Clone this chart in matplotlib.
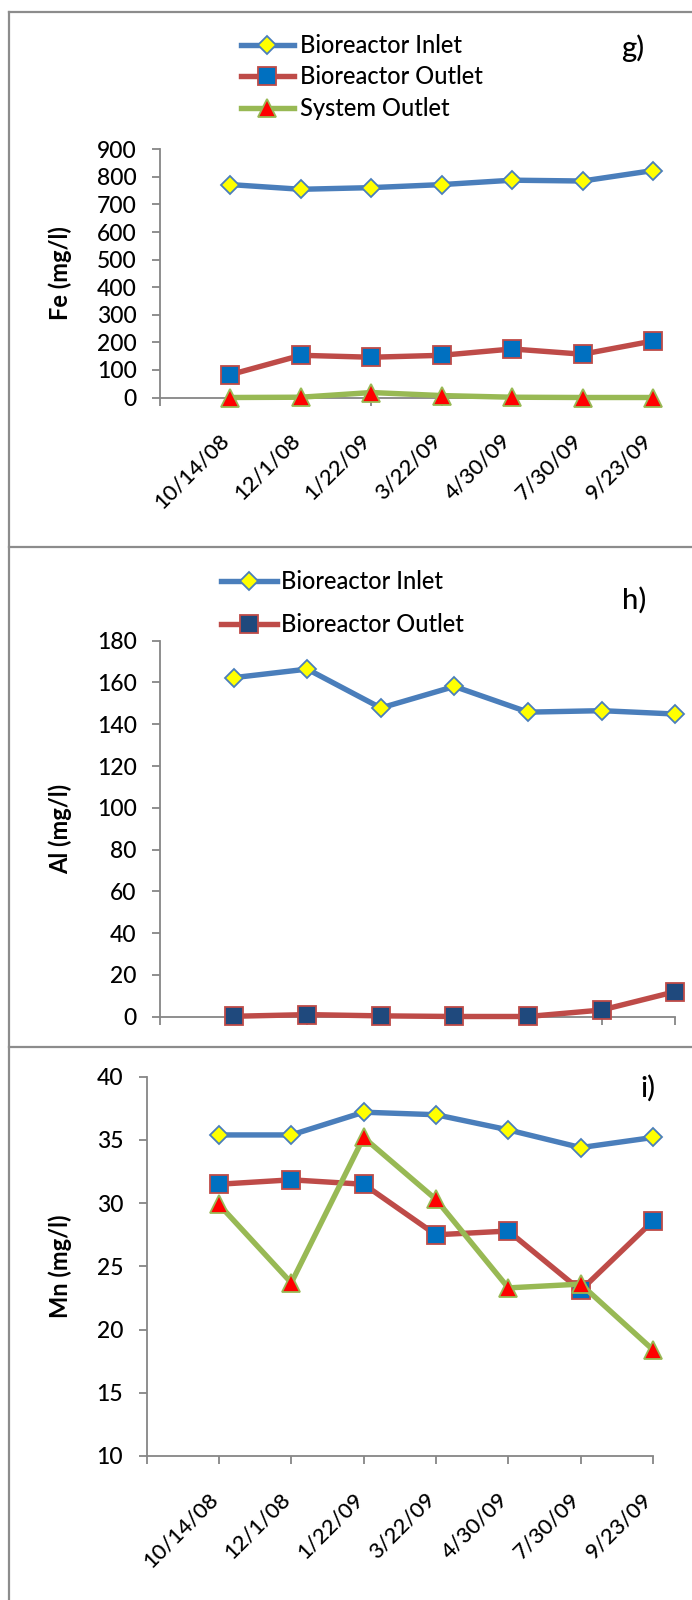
import matplotlib
matplotlib.use("Agg")
import matplotlib.pyplot as plt
from matplotlib.lines import Line2D

plt.rcParams['font.family'] = ['Lato', 'DejaVu Sans']
plt.rcParams['font.weight'] = 500

# ---------------- data ----------------
dates = ['10/14/08', '12/1/08', '1/22/09', '3/22/09', '4/30/09', '7/30/09', '9/23/09']

fe_inlet = [772, 755, 761, 772, 788, 785, 823]
fe_bio_outlet = [83, 153, 146, 153, 176, 157, 205]
fe_sys_outlet = [0, 1, 18, 7, 1, 0, 0]

al_inlet = [162.3, 166.4, 147.8, 158.1, 145.8, 146.5, 144.9]
al_bio_outlet = [0.2, 1.0, 0.4, 0.1, 0.1, 3.2, 12.0]

mn_inlet = [35.4, 35.4, 37.2, 37.0, 35.8, 34.4, 35.2]
mn_bio_outlet = [31.5, 31.85, 31.5, 27.5, 27.8, 23.1, 28.6]
mn_sys_outlet = [29.9, 23.7, 35.2, 30.3, 23.3, 23.6, 18.4]

series_names = ['Bioreactor Inlet', 'Bioreactor Outlet', 'System Outlet']
fe_ticks = list(range(0, 901, 100))
al_ticks = list(range(0, 181, 20))
mn_ticks = list(range(10, 41, 5))

# ---------------- style ----------------
W, H = 692, 1600
BLUE = '#4A7EBB'
RED = '#BE4B48'
GREEN = '#98B954'
AXC = '#868686'
LW = 3.9
MEW = 1.3

fig = plt.figure(figsize=(W / 100, H / 100), dpi=100)


def rect(l, r, t, b):
    return [l / W, 1 - b / H, (r - l) / W, (b - t) / H]


def style_axes(ax, yticks, ylim, ylabel, show_xlabels=True):
    xs = list(range(len(dates) + 1))
    ax.set_xlim(0, len(dates))
    ax.set_ylim(*ylim)
    for s in ['top', 'right']:
        ax.spines[s].set_visible(False)
    for s in ['left', 'bottom']:
        ax.spines[s].set_color(AXC)
        ax.spines[s].set_linewidth(1.3)
    ax.set_yticks(yticks)
    ax.tick_params(axis='y', direction='out', length=5.8, width=1.3, color=AXC,
                   labelsize=16.5, pad=11.0, labelcolor='black')
    if show_xlabels:
        ax.set_xticks(xs, [''] + dates, rotation=45, ha='right', va='baseline',
                      rotation_mode='anchor')
    else:
        ax.set_xticks(xs, [''] * len(xs))
    ax.tick_params(axis='x', direction='out', length=5.8, width=1.3, color=AXC,
                   labelsize=15.8, pad=26.0, labelcolor='black')
    ax.set_ylabel(ylabel, fontsize=17, fontweight='bold', va='center')
    left = ax.get_position().x0 * W
    width = ax.get_position().width * W
    ax.yaxis.set_label_coords((60 - left) / width, 0.5)


def plot_series(ax, y, kind, sq_face='#0070C0'):
    x = list(range(1, len(y) + 1))
    if kind == 0:
        return ax.plot(x, y, color=BLUE, lw=LW, marker='D', ms=9.4, mfc='#FFFF00',
                       mec=BLUE, mew=MEW, clip_on=False, zorder=3)[0]
    if kind == 1:
        return ax.plot(x, y, color=RED, lw=LW, marker='s', ms=12.8, mfc=sq_face,
                       mec=RED, mew=MEW, clip_on=False, zorder=3)[0]
    return ax.plot(x, y, color=GREEN, lw=LW, marker='^', ms=12.8, mfc='#FF0000',
                   mec=GREEN, mew=MEW, clip_on=False, zorder=3)[0]


# ---------------- panel g) Fe ----------------
ax1 = fig.add_axes(rect(160, 653, 149.3, 397.5))
style_axes(ax1, fe_ticks, (0, 900), 'Fe (mg/l)')
h1 = [plot_series(ax1, fe_inlet, 0), plot_series(ax1, fe_bio_outlet, 1),
      plot_series(ax1, fe_sys_outlet, 2)]
ax1.legend(h1, series_names, loc='center left', bbox_to_anchor=(240.5 / W, 1 - 77 / H),
           bbox_transform=fig.transFigure, frameon=False, fontsize=17, borderpad=0,
           borderaxespad=0, handlelength=2.25, handletextpad=0.25, labelspacing=0.36,
           numpoints=1)
fig.text(633 / W, 1 - 48 / H, 'g)', fontsize=21, ha='center', va='center')

# ---------------- panel h) Al ----------------
ax2 = fig.add_axes(rect(160, 675.3, 640.7, 1016.7))
style_axes(ax2, al_ticks, (0, 180), 'Al (mg/l)', show_xlabels=False)
h2 = [plot_series(ax2, al_inlet, 0), plot_series(ax2, al_bio_outlet, 1, sq_face='#1F497D')]
ax2.legend(h2, series_names[:2], loc='center left', bbox_to_anchor=(220.6 / W, 1 - 603 / H),
           bbox_transform=fig.transFigure, frameon=False, fontsize=17, borderpad=0,
           borderaxespad=0, handlelength=2.4, handletextpad=0.16, labelspacing=0.85,
           numpoints=1)
fig.text(634 / W, 1 - 600 / H, 'h)', fontsize=21, ha='center', va='center')

# ---------------- panel i) Mn ----------------
ax3 = fig.add_axes(rect(146.6, 653, 1076.8, 1456))
style_axes(ax3, mn_ticks, (10, 40), 'Mn (mg/l)')
plot_series(ax3, mn_inlet, 0)
plot_series(ax3, mn_bio_outlet, 1)
plot_series(ax3, mn_sys_outlet, 2)
fig.text(648 / W, 1 - 1088 / H, 'i)', fontsize=21, ha='center', va='center')

# ---------------- panel borders ----------------
BC = '#8C8C8C'
bx = 9.3 / W
for yy in [11.7, 547.0, 1047.3]:
    fig.add_artist(Line2D([bx, 1], [1 - yy / H, 1 - yy / H], transform=fig.transFigure,
                          color=BC, lw=1.6))
fig.add_artist(Line2D([bx, bx], [1 - 11.7 / H, 0], transform=fig.transFigure,
                      color=BC, lw=1.6))

fig.savefig('out.png', dpi=100)
